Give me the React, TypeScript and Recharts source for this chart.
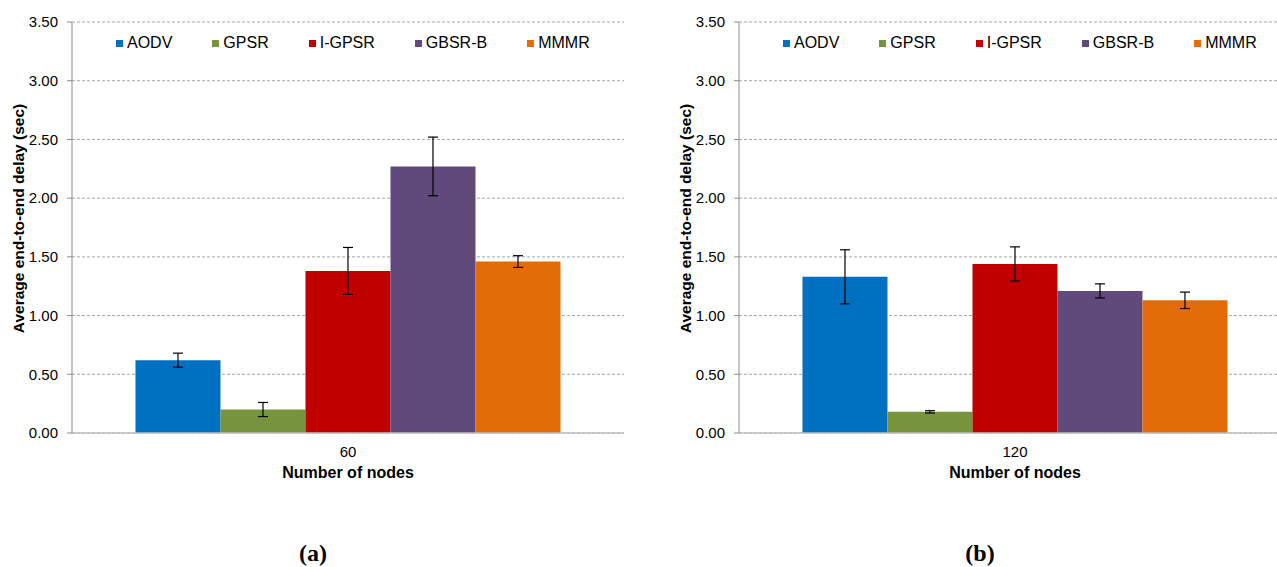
import React from "react";
import { BarChart, Bar, XAxis, YAxis, CartesianGrid, ErrorBar, Legend } from "recharts";

const FONT = '"Liberation Sans", Arial, sans-serif';

const protocols = ["AODV", "GPSR", "I-GPSR", "GBSR-B", "MMMR"];
const protocolColors = ["#0070C0", "#77933C", "#C00000", "#604A7B", "#E36C09"];

// average end-to-end delay (sec) and error half-width, 60 nodes
const delay60 = [0.62, 0.2, 1.38, 2.27, 1.46];
const err60 = [0.06, 0.06, 0.2, 0.25, 0.05];

// same for 120 nodes
const delay120 = [1.33, 0.18, 1.44, 1.21, 1.13];
const err120 = [0.23, 0.01, 0.145, 0.06, 0.07];

const yTicks = [0, 0.5, 1, 1.5, 2, 2.5, 3, 3.5];

const buildRows = (nodes: string, delays: number[], errs: number[]) => {
  const row: Record<string, string | number> = { nodes };
  protocols.forEach((_, i) => {
    row[`p${i}`] = delays[i];
    row[`e${i}`] = errs[i];
  });
  return [row];
};

const LegendRow = () => (
  <div style={{ display: "flex", gap: 40, fontFamily: FONT, fontSize: 16, color: "#000", lineHeight: "18px" }}>
    {protocols.map((name, i) => (
      <div key={name} style={{ display: "flex", alignItems: "center", whiteSpace: "nowrap" }}>
        <span style={{ width: 7, height: 7, background: protocolColors[i], marginRight: 4, display: "inline-block" }} />
        {name}
      </div>
    ))}
  </div>
);

const YTitle = (props: any) => {
  const vb = props.viewBox || { x: 0, y: 22, width: 72, height: 411 };
  const cx = vb.x + 18;
  const cy = vb.y + vb.height / 2 - 9;
  return (
    <text
      x={cx}
      y={cy}
      transform={`rotate(-90, ${cx}, ${cy})`}
      textAnchor="middle"
      dominantBaseline="central"
      fontFamily={FONT}
      fontSize={15.5}
      fontWeight="bold"
      fill="#000"
    >
      Average end-to-end delay (sec)
    </text>
  );
};

const DelayPanel = ({ data, left, caption }: { data: any[]; left: number; caption: string }) => (
  <div style={{ position: "absolute", left, top: 0, width: 624, height: 567 }}>
    <BarChart
      width={624}
      height={500}
      data={data}
      margin={{ top: 22, right: 0, left: 0, bottom: 0 }}
      barCategoryGap="11.5%"
      barGap={0}
    >
      <CartesianGrid vertical={false} strokeDasharray="3 2" stroke="#a6a6a6" />
      <XAxis
        dataKey="nodes"
        height={67}
        axisLine={{ stroke: "#bfbfbf", strokeWidth: 1.5 }}
        tickLine={false}
        tickSize={0}
        tickMargin={13}
        tick={{ fontSize: 15, fill: "#000", fontFamily: FONT }}
        label={{
          value: "Number of nodes",
          position: "insideBottom",
          offset: 22,
          style: { fontSize: 16, fontWeight: "bold", fill: "#000", fontFamily: FONT },
        }}
      />
      <YAxis
        width={72}
        domain={[0, 3.5]}
        ticks={yTicks}
        interval={0}
        tickFormatter={(v: number) => v.toFixed(2)}
        axisLine={{ stroke: "#8c8c8c" }}
        tickLine={{ stroke: "#8c8c8c" }}
        tickSize={5}
        tickMargin={9}
        tick={{ fontSize: 15, fill: "#000", fontFamily: FONT }}
        label={(p: any) => <YTitle {...p} />}
      />
      <Legend
        layout="horizontal"
        verticalAlign="middle"
        align="center"
        wrapperStyle={{ top: 34, left: 116, width: "auto" }}
        content={() => <LegendRow />}
      />
      {protocols.map((name, i) => (
        <Bar key={name} dataKey={`p${i}`} name={name} fill={protocolColors[i]} isAnimationActive={false}>
          <ErrorBar dataKey={`e${i}`} width={5} stroke="#000" strokeWidth={1.2} />
        </Bar>
      ))}
    </BarChart>
    <div
      style={{
        position: "absolute",
        left: 263,
        width: 100,
        top: 541,
        textAlign: "center",
        fontFamily: '"Liberation Serif", "Times New Roman", serif',
        fontWeight: "bold",
        fontSize: 24,
        lineHeight: "24px",
        color: "#000",
      }}
    >
      {caption}
    </div>
  </div>
);

export default function App() {
  return (
    <div
      style={{
        position: "absolute",
        left: 0,
        top: 0,
        width: 1277,
        height: 567,
        overflow: "hidden",
        background: "#fff",
        fontFamily: FONT,
      }}
    >
      <DelayPanel data={buildRows("60", delay60, err60)} left={0} caption="(a)" />
      <DelayPanel data={buildRows("120", delay120, err120)} left={667} caption="(b)" />
    </div>
  );
}
